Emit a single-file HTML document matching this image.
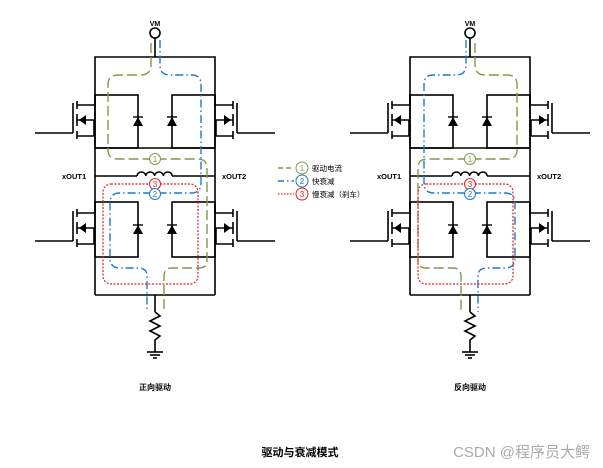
<!DOCTYPE html>
<html><head><style>body{margin:0;background:#fff}svg{display:block}</style></head><body>
<svg width="603" height="468" viewBox="0 0 603 468" xmlns="http://www.w3.org/2000/svg" font-family="Liberation Sans, Noto Sans CJK SC, sans-serif">
<defs>
<g id="fet">
 <line x1="35" y1="133" x2="73" y2="133" stroke="#000" stroke-width="1.6"/>
 <line x1="73" y1="103" x2="73" y2="133" stroke="#000" stroke-width="1.6"/>
 <line x1="77" y1="101" x2="77" y2="109" stroke="#000" stroke-width="1.6"/>
 <line x1="77" y1="114" x2="77" y2="126" stroke="#000" stroke-width="1.6"/>
 <line x1="77" y1="131" x2="77" y2="139" stroke="#000" stroke-width="1.6"/>
 <polyline points="77,105 95,105 95,95" fill="none" stroke="#000" stroke-width="1.6"/>
 <polyline points="77,120 94,120 94,136 77,136" fill="none" stroke="#000" stroke-width="1.6"/>
 <polygon points="79,120 86,115 86,125" fill="#000"/>
</g>
<g id="diode">
 <polygon points="-5,5 5,5 0,-4" fill="#000"/>
 <line x1="-5" y1="-4" x2="5" y2="-4" stroke="#000" stroke-width="1.4"/>
</g>
<g id="circ">
 <g stroke="#000" stroke-width="1.6" fill="none">
  <line x1="155" y1="38" x2="155" y2="57"/>
  <polyline points="95,147 95,57 215,57 215,147"/>
  <rect x="95" y="95" width="43" height="53"/>
  <rect x="172" y="95" width="43" height="53"/>
  <line x1="95" y1="148" x2="215" y2="148"/>
  <line x1="95" y1="148" x2="95" y2="295"/>
  <line x1="215" y1="148" x2="215" y2="295"/>
  <line x1="95" y1="176" x2="137" y2="176"/>
  <line x1="172" y1="176" x2="215" y2="176"/>
  <path d="M137,176 a4.4,4 0 0 1 8.8,0 a4.4,4 0 0 1 8.8,0 a4.4,4 0 0 1 8.8,0 a4.4,4 0 0 1 8.8,0"/>
  <rect x="95" y="202" width="43" height="55"/>
  <rect x="172" y="202" width="43" height="55"/>
  <line x1="95" y1="295" x2="215" y2="295"/>
  <line x1="155" y1="295" x2="155" y2="312"/>
  <polyline points="155,312 160,316 150,321 160,326 150,331 160,336 155,340 155,352"/>
  <line x1="147" y1="352" x2="163" y2="352"/>
  <line x1="150" y1="355" x2="160" y2="355"/>
  <line x1="153" y1="358" x2="157" y2="358"/>
 </g>
 <circle cx="155" cy="33" r="5" fill="#fff" stroke="#000" stroke-width="1.6"/>
 <text x="155" y="26" font-size="7" font-weight="bold" text-anchor="middle">VM</text>
 <use href="#diode" x="138" y="121"/><use href="#diode" x="172" y="121"/>
 <use href="#diode" x="138" y="229"/><use href="#diode" x="172" y="229"/>
 <use href="#fet"/>
 <use href="#fet" transform="translate(310,0) scale(-1,1)"/>
 <use href="#fet" transform="translate(0,108)"/>
 <use href="#fet" transform="translate(310,108) scale(-1,1)"/>
 <text x="62" y="179" font-size="7.5" font-weight="bold">xOUT1</text>
 <text x="222" y="179" font-size="7.5" font-weight="bold">xOUT2</text>
</g>
</defs>

<use href="#circ"/>
<g fill="none" stroke-width="1.4">
 <path d="M151,43 V65 Q151,75 140,75 H118 Q108,75 108,85 V150 Q108,159 118,159 H198 Q207,159 207,168 V262 Q207,268 198,268 H172 Q164,268 164,276 V312" stroke="#7f9a4a" stroke-dasharray="10,4"/>
 <path d="M160,40 V65 Q160,75 170,75 H192 Q201,75 201,85 V183 Q201,193 191,193 H120 Q110,193 110,203 V258 Q110,268 120,268 H138 Q147,268 147,276 V312" stroke="#1f7ac4" stroke-dasharray="8,3,1.5,3"/>
 <rect x="103" y="184" width="95" height="100" rx="8" stroke="#e02020" stroke-dasharray="2,1.5" stroke-width="1.2"/>
</g>
<circle cx="155" cy="159" r="5.5" fill="#fff" stroke="#7f9a4a"/><text x="155" y="162" font-size="8" text-anchor="middle" fill="#7f9a4a">1</text>
<circle cx="155" cy="184" r="5.5" fill="#fff" stroke="#e02020"/><text x="155" y="187" font-size="8" text-anchor="middle" fill="#e02020">3</text>
<circle cx="155" cy="194" r="5.5" fill="#fff" stroke="#1f7ac4"/><text x="155" y="197" font-size="8" text-anchor="middle" fill="#1f7ac4">2</text>

<g transform="translate(315,0)"><use href="#circ"/>
<g fill="none" stroke-width="1.4">
 <path d="M160,43 V65 Q160,75 170,75 H192 Q202,75 202,85 V150 Q202,159 192,159 H112 Q103,159 103,168 V262 Q103,268 112,268 H138 Q146,268 146,276 V312" stroke="#7f9a4a" stroke-dasharray="10,4"/>
 <path d="M151,40 V65 Q151,75 141,75 H118 Q109,75 109,85 V183 Q109,193 119,193 H190 Q200,193 200,203 V258 Q200,268 190,268 H172 Q163,268 163,276 V312" stroke="#1f7ac4" stroke-dasharray="8,3,1.5,3"/>
 <rect x="103" y="184" width="95" height="100" rx="8" stroke="#e02020" stroke-dasharray="2,1.5" stroke-width="1.2"/>
</g>
<circle cx="155" cy="159" r="5.5" fill="#fff" stroke="#7f9a4a"/><text x="155" y="162" font-size="8" text-anchor="middle" fill="#7f9a4a">1</text>
<circle cx="155" cy="184" r="5.5" fill="#fff" stroke="#e02020"/><text x="155" y="187" font-size="8" text-anchor="middle" fill="#e02020">3</text>
<circle cx="155" cy="194" r="5.5" fill="#fff" stroke="#1f7ac4"/><text x="155" y="197" font-size="8" text-anchor="middle" fill="#1f7ac4">2</text>
</g>

<line x1="278" y1="168" x2="294" y2="168" stroke="#7f9a4a" stroke-width="1.4" stroke-dasharray="5,3"/>
<circle cx="302" cy="168" r="6" fill="#fff" stroke="#7f9a4a"/><text x="302" y="171" font-size="8" text-anchor="middle" fill="#7f9a4a">1</text>
<text x="312" y="171" font-size="7.5">驱动电流</text>
<line x1="278" y1="181" x2="294" y2="181" stroke="#1f7ac4" stroke-width="1.4" stroke-dasharray="6,3,1.5,3"/>
<circle cx="302" cy="181" r="6" fill="#fff" stroke="#1f7ac4"/><text x="302" y="184" font-size="8" text-anchor="middle" fill="#1f7ac4">2</text>
<text x="312" y="184" font-size="7.5">快衰减</text>
<line x1="278" y1="194" x2="294" y2="194" stroke="#e02020" stroke-width="1.2" stroke-dasharray="1.5,1.5"/>
<circle cx="302" cy="194" r="6" fill="#fff" stroke="#e02020"/><text x="302" y="197" font-size="8" text-anchor="middle" fill="#e02020">3</text>
<text x="312" y="197" font-size="7.5">慢衰减（刹车）</text>

<text x="155" y="390" font-size="8" font-weight="bold" text-anchor="middle">正向驱动</text>
<text x="470" y="390" font-size="8" font-weight="bold" text-anchor="middle">反向驱动</text>
<text x="300" y="456" font-size="11" font-weight="bold" text-anchor="middle">驱动与衰减模式</text>
<text x="590" y="457" font-size="15" text-anchor="end" fill="#aaa">CSDN @程序员大鳄</text>
</svg>
</body></html>
